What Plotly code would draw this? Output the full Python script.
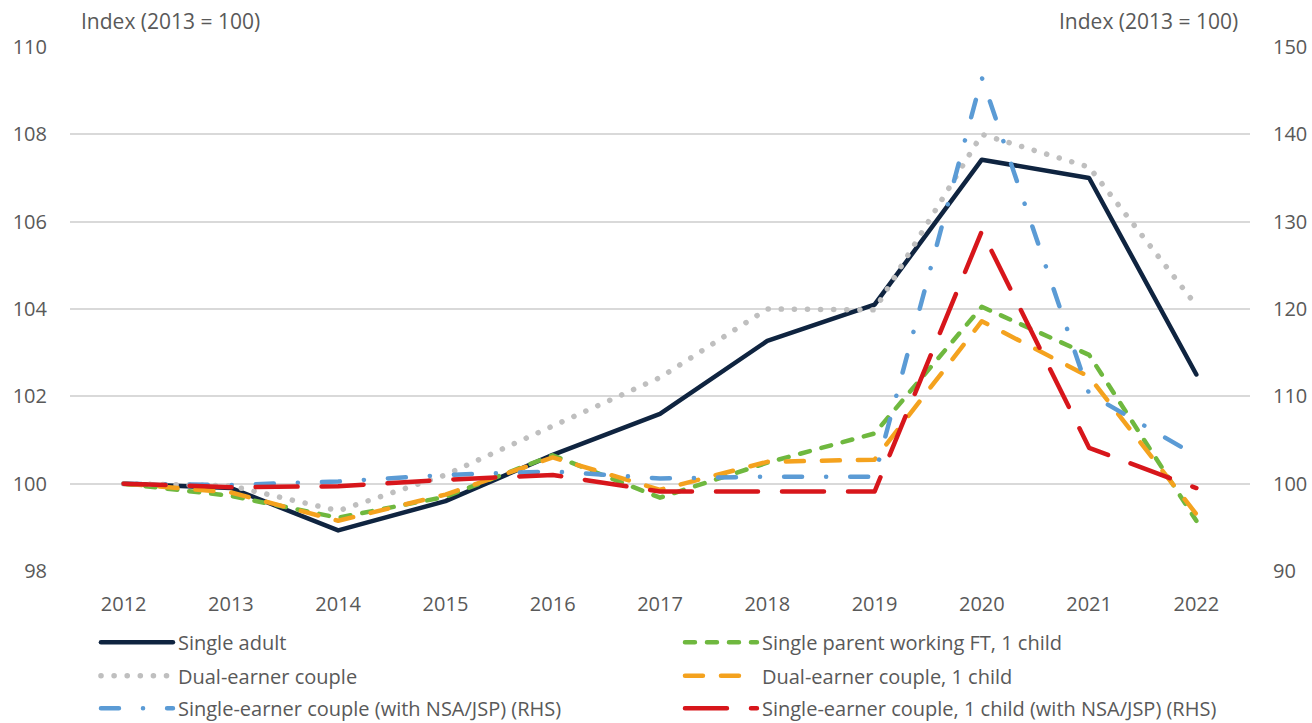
import plotly.graph_objects as go

years = ["2012", "2013", "2014", "2015", "2016", "2017", "2018", "2019", "2020", "2021", "2022"]

# Left-hand scale series
single_adult = [100.0, 99.9, 98.93, 99.6, 100.66, 101.6, 103.27, 104.1, 107.42, 107.0, 102.5]
dual_earner = [100.0, 99.95, 99.38, 100.2, 101.32, 102.43, 104.0, 103.98, 108.0, 107.25, 104.08]
single_parent = [100.0, 99.72, 99.22, 99.7, 100.65, 99.68, 100.48, 101.15, 104.05, 102.95, 99.15]
dual_earner_child = [100.0, 99.8, 99.15, 99.75, 100.6, 99.86, 100.5, 100.55, 103.72, 102.45, 99.3]

# Right-hand scale series
single_earner = [100.0, 99.85, 100.25, 101.0, 101.4, 100.6, 100.8, 100.8, 146.5, 110.3, 103.2]
single_earner_child = [100.0, 99.6, 99.7, 100.45, 101.0, 99.1, 99.1, 99.1, 128.9, 104.1, 99.5]

left_ticks = [98, 100, 102, 104, 106, 108, 110]
right_ticks = [90, 100, 110, 120, 130, 140, 150]

font_family = "Open Sans"
text_grey = "#595959"

fig = go.Figure()

# Each legend row is its own two-entry legend so the rows can be spaced freely
fig.add_trace(go.Scatter(x=years, y=single_adult, name="Single adult", mode="lines",
                         legend="legend",
                         line=dict(color="#0f2440", width=4.5)))
fig.add_trace(go.Scatter(x=years, y=single_parent, name="Single parent working FT, 1 child", mode="lines",
                         legend="legend",
                         line=dict(color="#6fb83f", width=4.5, dash="10px,12px")))
fig.add_trace(go.Scatter(x=years, y=dual_earner, name="Dual-earner couple", mode="lines",
                         legend="legend2",
                         line=dict(color="#bfbfbf", width=5.5, dash="0.1px,13px")))
fig.add_trace(go.Scatter(x=years, y=dual_earner_child, name="Dual-earner couple, 1 child", mode="lines",
                         legend="legend2",
                         line=dict(color="#f4a21e", width=4.5, dash="18px,18px")))
fig.add_trace(go.Scatter(x=years, y=single_earner, name="Single-earner couple (with NSA/JSP) (RHS)",
                         mode="lines", yaxis="y2", legend="legend3",
                         line=dict(color="#5b9bd5", width=4.5, dash="18px,24px,0.1px,24px")))
fig.add_trace(go.Scatter(x=years, y=single_earner_child, name="Single-earner couple, 1 child (with NSA/JSP) (RHS)",
                         mode="lines", yaxis="y2", legend="legend3",
                         line=dict(color="#d7161b", width=4.5, dash="42px,24px")))


def legend_row(y_center):
    return dict(orientation="h", x=0.022, xanchor="left", xref="paper",
                y=y_center, yanchor="middle", yref="paper",
                entrywidth=497, entrywidthmode="pixels", traceorder="normal",
                font=dict(size=20, color=text_grey), itemwidth=72,
                bgcolor="rgba(0,0,0,0)")


fig.update_layout(
    width=1312, height=723,
    margin=dict(l=70, r=62, t=47, b=152, autoexpand=False),
    paper_bgcolor="white", plot_bgcolor="white",
    font=dict(family=font_family, size=20, color=text_grey),
    showlegend=True,
    legend=legend_row(-0.136),
    legend2=legend_row(-0.2),
    legend3=legend_row(-0.262),
    xaxis=dict(type="category", range=[-0.5, 10.5], showgrid=False, showline=False,
               zeroline=False, ticks="", ticklabelstandoff=19,
               tickfont=dict(size=20, color=text_grey)),
    yaxis=dict(range=[98, 110], tickvals=left_ticks, showgrid=True, gridcolor="#d9d9d9",
               gridwidth=1.5, zeroline=False, showline=False, ticks="",
               ticklabelstandoff=22, tickfont=dict(size=20, color=text_grey)),
    yaxis2=dict(range=[90, 150], tickvals=right_ticks, overlaying="y", side="right",
                showgrid=False, zeroline=False, showline=False, ticks="",
                ticklabelstandoff=22, tickfont=dict(size=20, color=text_grey)),
    annotations=[
        dict(text="Index (2013 = 100)", xref="paper", yref="paper", x=0.008, y=1.0,
             xanchor="left", yanchor="bottom", yshift=10, showarrow=False,
             font=dict(size=21, color=text_grey)),
        dict(text="Index (2013 = 100)", xref="paper", yref="paper", x=0.9915, y=1.0,
             xanchor="right", yanchor="bottom", yshift=10, showarrow=False,
             font=dict(size=21, color=text_grey)),
    ],
)

# Rounded line ends so the dotted and dashed series render with soft caps
round_caps = """
var gd = document.querySelector('.plotly-graph-div');
function roundCaps() {
  gd.querySelectorAll('.scatterlayer .js-line, .legendlines path').forEach(function (p) {
    p.style.strokeLinecap = 'round';
    p.style.strokeLinejoin = 'round';
  });
}
roundCaps();
gd.on('plotly_afterplot', roundCaps);
"""

fig.write_html("out.html", post_script=round_caps)
